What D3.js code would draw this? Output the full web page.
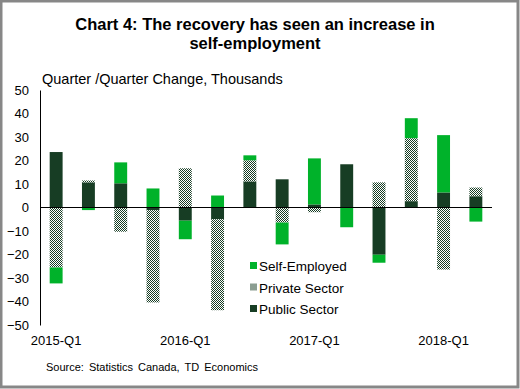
<!DOCTYPE html>
<html>
<head>
<meta charset="utf-8">
<script src="https://cdn.jsdelivr.net/npm/d3@7"></script>
<style>
  body { margin: 0; background: #fff; }
  text { font-family: "Liberation Sans", Arial, sans-serif; fill: #000; }
</style>
</head>
<body>
<div id="chart-area"></div>
<script>
// quarters and the three series (thousands, q/q change)
var quarters = ["2015-Q1","2015-Q2","2015-Q3","2015-Q4","2016-Q1","2016-Q2","2016-Q3",
                "2016-Q4","2017-Q1","2017-Q2","2017-Q3","2017-Q4","2018-Q1","2018-Q2"];
var publicSector  = [23.6, 10.7, 10.3, -1.1, -5.6, -5.0, 11.1, 12.0,  1.3, 18.4, -20.1,  2.7,   6.4, 4.8];
var privateSector = [-25.5, 0.8, -10.3, -39.3, 16.7, -38.7, 9.0, -6.4, -2.0, 0.0, 10.7, 26.8, -26.4, 3.7];
var selfEmployed  = [-6.8, -1.1,  8.9,  8.1, -7.9,  5.1,  2.1, -9.3, 19.6, -8.4, -3.4,  8.5,  24.4, -6.0];
var yTicks = [50, 40, 30, 20, 10, 0, -10, -20, -30, -40, -50];
var xLabels = ["2015-Q1", "2016-Q1", "2017-Q1", "2018-Q1"];

var seriesNames = ["Public Sector", "Private Sector", "Self-Employed"];
var legendOrder = ["Self-Employed", "Private Sector", "Public Sector"];

var W = 520, H = 389;
var margin = { left: 40, right: 28, top: 90, bottom: 64 };

var svg = d3.select("#chart-area")
	.append("svg")
	.attr("width", W)
	.attr("height", H);

// checker pattern for private sector
var defs = svg.append("defs");
var pat = defs.append("pattern")
	.attr("id", "checker")
	.attr("width", 2).attr("height", 2)
	.attr("patternUnits", "userSpaceOnUse");
pat.append("rect").attr("width", 2).attr("height", 2).attr("fill", "#fff");
pat.append("rect").attr("x", 0).attr("y", 0).attr("width", 1).attr("height", 1).attr("fill", "#173d24");
pat.append("rect").attr("x", 1).attr("y", 1).attr("width", 1).attr("height", 1).attr("fill", "#173d24");

var colors = {
	"Public Sector": "#173d24",
	"Private Sector": "url(#checker)",
	"Self-Employed": "#00b22a"
};

// border
svg.append("rect")
	.attr("x", 1).attr("y", 1)
	.attr("width", W - 3).attr("height", H - 3)
	.attr("fill", "none")
	.attr("stroke", "#878787")
	.attr("stroke-width", 3);

// title
svg.append("text")
	.attr("x", 255).attr("y", 30)
	.attr("text-anchor", "middle")
	.attr("font-size", "16.5px").attr("font-weight", "bold")
	.text("Chart 4: The recovery has seen an increase in");
svg.append("text")
	.attr("x", 255).attr("y", 49)
	.attr("text-anchor", "middle")
	.attr("font-size", "16.5px").attr("font-weight", "bold")
	.text("self-employment");

// axis label
svg.append("text")
	.attr("x", 42).attr("y", 84)
	.attr("font-size", "14.5px")
	.text("Quarter /Quarter Change, Thousands");

var width = 492 - margin.left;
var g = svg.append("g")
	.attr("transform", "translate(" + margin.left + ",0)");

var x = d3.scaleBand()
	.domain(quarters)
	.range([0, width])
	.paddingInner(0.6)
	.paddingOuter(0.3);

var y = d3.scaleLinear()
	.domain([-50, 50])
	.range([325, 90]);

// build rows and diverging stack
var rows = quarters.map(function(q, i) {
	return {
		quarter: q,
		"Public Sector": publicSector[i],
		"Private Sector": privateSector[i],
		"Self-Employed": selfEmployed[i]
	};
});
var stacked = d3.stack()
	.keys(seriesNames)
	.offset(d3.stackOffsetDiverging)(rows);

g.selectAll("g.series")
	.data(stacked)
	.enter()
	.append("g")
		.attr("class", "series")
		.attr("fill", function(d){ return colors[d.key]; })
	.selectAll("rect")
	.data(function(d){ return d; })
	.enter()
	.append("rect")
		.attr("x", function(d){ return x(d.data.quarter); })
		.attr("y", function(d){ return y(Math.max(d[0], d[1])); })
		.attr("width", x.bandwidth())
		.attr("height", function(d){ return Math.abs(y(d[0]) - y(d[1])); });

// y axis
var yAxis = g.append("g")
	.call(d3.axisLeft(y).tickValues(yTicks).tickSize(0).tickPadding(11));
yAxis.select(".domain").attr("stroke", "#000");
yAxis.selectAll("text")
	.attr("font-size", "13px")
	.attr("font-family", "Liberation Sans, Arial, sans-serif");

// zero line
g.append("line")
	.attr("x1", 0).attr("x2", width)
	.attr("y1", y(0)).attr("y2", y(0))
	.attr("stroke", "#000").attr("stroke-width", 1.2);

// x labels
g.selectAll("text.xlab")
	.data(xLabels)
	.enter()
	.append("text")
		.attr("class", "xlab")
		.attr("x", function(d){ return x(d) + x.bandwidth() / 2; })
		.attr("y", 345)
		.attr("text-anchor", "middle")
		.attr("font-size", "13px")
		.text(function(d){ return d; });

// legend
var legend = svg.selectAll("g.legend")
	.data(legendOrder)
	.enter()
	.append("g")
		.attr("class", "legend")
		.attr("transform", function(d, i){ return "translate(250," + (266 + i * 21.5) + ")"; });
legend.append("rect")
	.attr("x", 0).attr("y", -4)
	.attr("width", 7).attr("height", 7)
	.attr("fill", function(d){ return colors[d]; });
legend.append("text")
	.attr("x", 9).attr("y", 5)
	.attr("font-size", "13.5px")
	.text(function(d){ return d; });

// source
svg.append("text")
	.attr("x", 46).attr("y", 371)
	.attr("font-size", "11px")
	.attr("word-spacing", "2px")
	.text("Source: Statistics Canada, TD Economics");
</script>
</body>
</html>
